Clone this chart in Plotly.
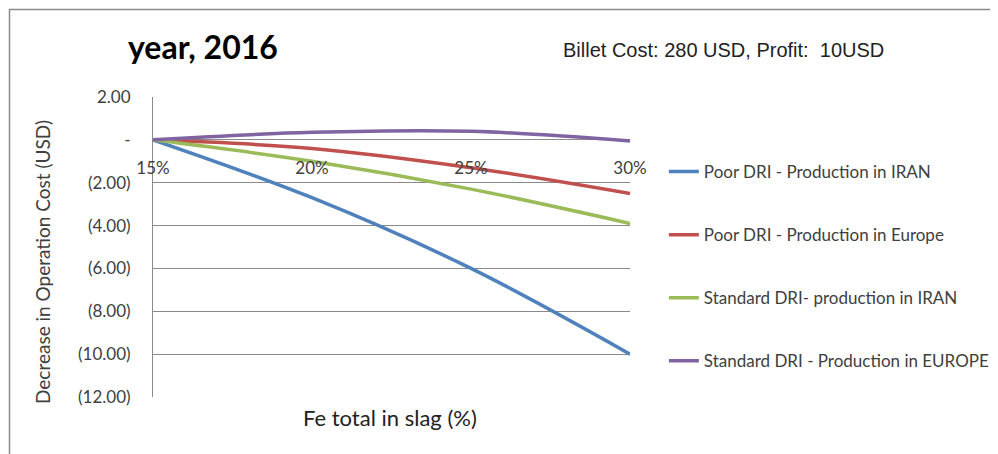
import plotly.graph_objects as go

x_vals = [15, 20, 25, 30]
x_labels = ["15%", "20%", "25%", "30%"]
poor_iran = [0.0, -2.7, -6.0, -10.0]
poor_europe = [0.0, -0.4, -1.3, -2.5]
std_iran = [0.0, -1.0, -2.3, -3.9]
std_europe = [0.0, 0.35, 0.4, -0.05]
series_names = ["Poor DRI - Production in IRAN", "Poor DRI - Production in Europe",
                "Standard DRI- production in IRAN", "Standard DRI - Production in EUROPE"]
colors = ["#4F81BD", "#C0504D", "#9BBB59", "#8064A2"]
y_ticks = [2, 0, -2, -4, -6, -8, -10, -12]
y_tick_text = ["2.00", "-", "(2.00)", "(4.00)", "(6.00)", "(8.00)", "(10.00)", "(12.00)"]

fig = go.Figure()
for i, (name, ys) in enumerate(zip(series_names, [poor_iran, poor_europe, std_iran, std_europe])):
    fig.add_trace(go.Scatter(x=x_vals, y=ys, mode="lines", name=name,
                             line=dict(color=colors[i], width=3.5, shape="spline"),
                             legendgroup=f"g{i}"))

font_main = "Lato, Open Sans, sans-serif"
# plot area: 477 x 300 px; page body adds ~8px offset
fig.update_layout(
    width=998, height=454,
    margin=dict(l=145, r=376, t=89, b=65, autoexpand=False),
    paper_bgcolor="white", plot_bgcolor="white",
    font=dict(family=font_main, color="#404040", size=17),
    showlegend=True,
    legend=dict(x=1.071, y=0.81, xanchor="left", yanchor="top",
                font=dict(size=17, color="#404040", family=font_main),
                tracegroupgap=38, itemwidth=30, bgcolor="rgba(0,0,0,0)"),
    xaxis=dict(range=[15, 30], tickvals=x_vals, ticktext=x_labels,
               anchor="free", position=12/14, showgrid=False, showline=False,
               zeroline=False, ticks="", ticklabelstandoff=16,
               tickfont=dict(size=17, color="#404040")),
    yaxis=dict(range=[-12, 2], tickvals=y_ticks, ticktext=y_tick_text,
               showgrid=True, gridcolor="#8a8a8a", gridwidth=1,
               showline=True, linecolor="#8a8a8a", linewidth=1,
               zeroline=False, ticks="", ticklabelstandoff=18,
               tickfont=dict(size=17, color="#404040")),
    annotations=[
        dict(text="<b>year, 2016</b>", xref="paper", yref="paper", x=0.105, y=1.17,
             xanchor="center", yanchor="middle", showarrow=False,
             font=dict(size=32, color="black", family=font_main)),
        dict(text="Billet Cost: 280 USD, Profit:  10USD", xref="paper", yref="paper",
             x=(723 - 153) / 477, y=(397 - 50) / 300, xanchor="center", yanchor="middle",
             showarrow=False,
             font=dict(size=20, color="#222222", family="Liberation Sans Narrow, Arial Narrow, sans-serif")),
        dict(text="Fe total in slag (%)", xref="paper", yref="paper", x=0.497, y=(397 - 417) / 300,
             xanchor="center", yanchor="middle", showarrow=False,
             font=dict(size=22, color="#222222", family=font_main)),
        dict(text="Decrease in Operation Cost (USD)", xref="paper", yref="paper",
             x=(42 - 153) / 477, y=(397 - 262) / 300, xanchor="center", yanchor="middle",
             textangle=-90, showarrow=False,
             font=dict(size=19, color="#404040", family=font_main)),
    ],
    shapes=[
        dict(type="rect", xref="paper", yref="paper",
             x0=(9.5 - 153) / 477, x1=(1010 - 153) / 477,
             y0=(397 - 480) / 300, y1=(397 - 9.5) / 300,
             line=dict(color="#8a8a8a", width=1.5), fillcolor="rgba(0,0,0,0)", layer="below"),
    ],
)

fig.write_html("out.html")
